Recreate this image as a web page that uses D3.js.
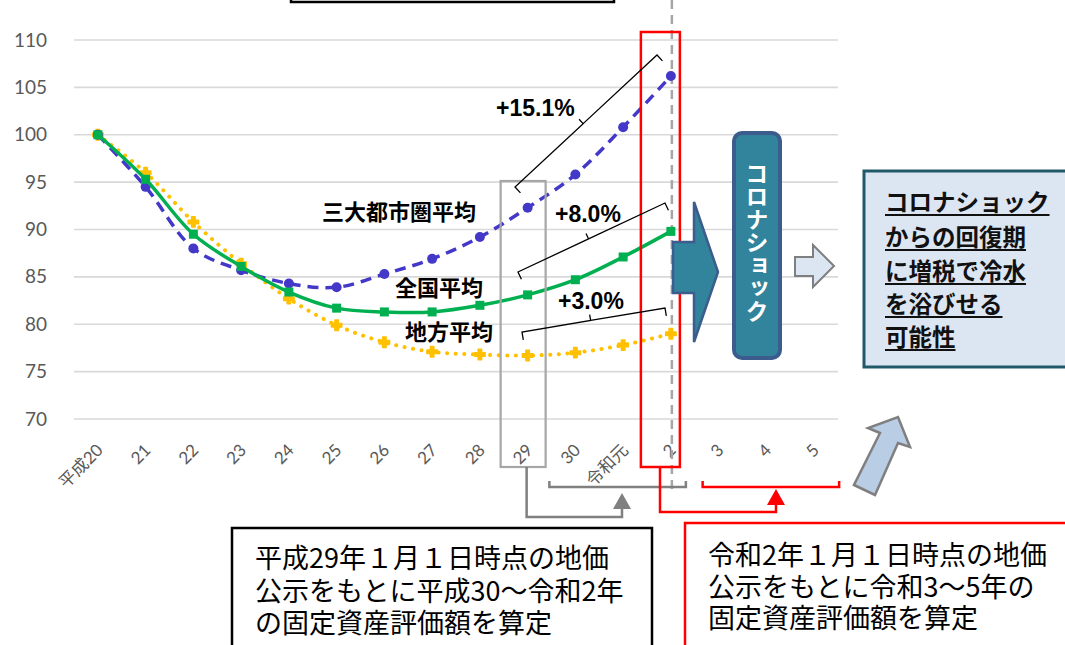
<!DOCTYPE html>
<html><head><meta charset="utf-8">
<script src="https://cdn.jsdelivr.net/npm/d3@7/dist/d3.min.js"></script>
<style>
html,body{margin:0;padding:0;background:#fff;}
svg{display:block;}
</style></head>
<body>
<svg id="chart" width="1065" height="645"></svg>
<script>
// ---- data ----
const categories = ["平成20","21","22","23","24","25","26","27","28","29","30","令和元","2","3","4","5"];
const yTicks = [70,75,80,85,90,95,100,105,110];
const sandaiValues  = [100,94.5,88.0,85.7,84.3,83.9,85.3,86.9,89.2,92.3,95.8,100.8,106.2];
const zenkokuValues = [100,95.3,89.5,86.1,83.4,81.7,81.3,81.3,82.0,83.1,84.7,87.1,89.8];
const chihoValues   = [100,96.0,90.8,86.4,82.7,79.9,78.1,77.1,76.8,76.7,77.0,77.8,79.0];
const seriesLabels = ["三大都市圏平均","全国平均","地方平均"];
const changeLabels = ["+15.1%","+8.0%","+3.0%"];
const coronaText = "コロナショック";
const riskLines = ["コロナショック","からの回復期","に増税で冷水","を浴びせる","可能性"];
const box1Lines = ["平成29年１月１日時点の地価","公示をもとに平成30～令和2年","の固定資産評価額を算定"];
const box2Lines = ["令和2年１月１日時点の地価","公示をもとに令和3～5年の","固定資産評価額を算定"];

const svg = d3.select("#chart");
const x = d3.scaleBand().domain(categories).range([74,838]).padding(0);
const y = d3.scaleLinear().domain([70,110]).range([419,40]);
const cx = c => x(c) + x.bandwidth()/2;
const latin = "Lato, 'Noto Sans CJK JP', sans-serif";
const jp = "'Noto Sans CJK JP', sans-serif";

// title box remnant at top
svg.append("rect").attr("x",291).attr("y",-10).attr("width",323).attr("height",12)
  .attr("fill","none").attr("stroke","#000").attr("stroke-width",2.5);

// gridlines
svg.append("g").selectAll("line").data(yTicks).join("line")
  .attr("x1",74).attr("x2",838).attr("y1",d=>y(d)).attr("y2",d=>y(d))
  .attr("stroke","#D9D9D9").attr("stroke-width",1.6);

// y axis labels
const yAxis = d3.axisLeft(y).tickValues(yTicks).tickSize(0).tickPadding(0);
const ya = svg.append("g").attr("transform","translate(47,0)").call(yAxis);
ya.select(".domain").remove();
ya.selectAll("text").attr("font-family",latin).attr("font-size",19).attr("fill","#595959");

// x axis labels (rotated)
svg.append("g").selectAll("text").data(categories).join("text")
  .attr("transform",d=>`translate(${cx(d)+2},447) rotate(-45)`)
  .attr("text-anchor","end").attr("dy","0.35em")
  .attr("font-family",latin).attr("font-size",17).attr("fill","#595959")
  .text(d=>d);

// dashed vertical at 令和2
svg.append("line").attr("x1",cx("2")+1).attr("x2",cx("2")+1).attr("y1",0).attr("y2",490)
  .attr("stroke","#A6A6A6").attr("stroke-width",2.5).attr("stroke-dasharray","9,6");

// data lines
const cats = categories.slice(0, sandaiValues.length);
const line = d3.line().x((d,i)=>cx(cats[i])).y(d=>y(d)).curve(d3.curveCatmullRom.alpha(0.5));

// 地方 yellow dotted
svg.append("path").attr("d",line(chihoValues)).attr("fill","none")
  .attr("stroke","#FFC000").attr("stroke-width",4).attr("stroke-linecap","round")
  .attr("stroke-dasharray","0.1,8.5");
svg.append("g").selectAll("path").data(chihoValues).join("path")
  .attr("d",d3.symbol(d3.symbolCross,60)())
  .attr("transform",(d,i)=>`translate(${cx(cats[i])},${y(d)})`)
  .attr("fill","#FFC000").attr("stroke","#FFC000").attr("stroke-width",1.5).attr("stroke-linejoin","round");

// 三大都市圏 blue dashed
svg.append("path").attr("d",line(sandaiValues)).attr("fill","none")
  .attr("stroke","#4338C8").attr("stroke-width",3.5).attr("stroke-dasharray","11,7");
svg.append("g").selectAll("circle").data(sandaiValues).join("circle")
  .attr("cx",(d,i)=>cx(cats[i])).attr("cy",d=>y(d)).attr("r",5)
  .attr("fill","#4338C8");

// 全国 green solid
svg.append("path").attr("d",line(zenkokuValues)).attr("fill","none")
  .attr("stroke","#00B050").attr("stroke-width",3.5);
svg.append("g").selectAll("rect").data(zenkokuValues).join("rect")
  .attr("x",(d,i)=>cx(cats[i])-4.5).attr("y",d=>y(d)-4.5).attr("width",9).attr("height",9)
  .attr("fill","#00B050");

// gray box around 29
svg.append("rect").attr("x",cx("29")-27).attr("y",181).attr("width",45).attr("height",286)
  .attr("fill","none").attr("stroke","#A6A6A6").attr("stroke-width",2.2);
// red box around 2
svg.append("rect").attr("x",cx("2")-30).attr("y",32).attr("width",39).attr("height",435)
  .attr("fill","none").attr("stroke","#FF0000").attr("stroke-width",2.5);

// series labels
const labelPos = [[322,220],[395,296],[405,340]];
seriesLabels.forEach((t,i)=>{
  svg.append("text").attr("x",labelPos[i][0]).attr("y",labelPos[i][1])
    .attr("font-family",jp).attr("font-weight","bold").attr("font-size",22)
    .attr("fill","#000").text(t);
});
// change labels
const chgPos = [[496,116],[555,222],[558,309]];
changeLabels.forEach((t,i)=>{
  svg.append("text").attr("x",chgPos[i][0]).attr("y",chgPos[i][1])
    .attr("font-family","'Liberation Sans', Arial, sans-serif").attr("font-weight","bold")
    .attr("font-size",23).attr("fill","#000").text(t);
});

// brackets
function bracket(ax,ay,bx,by){
  const dx=bx-ax, dy=by-ay, L=Math.hypot(dx,dy);
  const ux=dx/L, uy=dy/L;
  let nx=-uy, ny=ux; if(ny<0){nx=-nx;ny=-ny;}
  const h=8, m=6;
  const mx=ax+dx*0.48, my=ay+dy*0.48;
  const p = `M${ax+nx*h},${ay+ny*h} L${ax},${ay} L${mx},${my} L${mx-nx*m},${my-ny*m} M${mx},${my} L${bx},${by} L${bx+nx*h},${by+ny*h}`;
  svg.append("path").attr("d",p).attr("fill","none").attr("stroke","#000").attr("stroke-width",1.3);
}
bracket(515,187,657,55);
bracket(518,272,665,203);
bracket(522,332,665,308);

// gray bracket and arrow (29 -> 30..2)
svg.append("path").attr("d",`M${cx("30")-26},481 V487 H${cx("2")+15} V481`)
  .attr("fill","none").attr("stroke","#808080").attr("stroke-width",2.5);
svg.append("path").attr("d",`M${cx("29")-1},467 V517 H622 V506`)
  .attr("fill","none").attr("stroke","#808080").attr("stroke-width",2.5);
svg.append("path").attr("d","M613,509 L631,509 L622,493 Z").attr("fill","#808080");

// red bracket and arrow (2 -> 3..5)
svg.append("path").attr("d",`M${cx("3")-16},481 V487 H${cx("5")+25} V481`)
  .attr("fill","none").attr("stroke","#FF0000").attr("stroke-width",2.5);
svg.append("path").attr("d","M660,467 V512 H776 V502")
  .attr("fill","none").attr("stroke","#FF0000").attr("stroke-width",2.5);
svg.append("path").attr("d","M767,505 L785,505 L776,489 Z").attr("fill","#FF0000");

// teal big arrow
svg.append("path").attr("d","M673,242 L694,242 L694,202 L718,272 L694,342 L694,293 L673,293 Z")
  .attr("fill","#31849B").attr("stroke","#3B5C8C").attr("stroke-width",2.5).attr("stroke-linejoin","miter");

// corona shock box
svg.append("rect").attr("x",734).attr("y",133).attr("width",46).attr("height",225).attr("rx",8)
  .attr("fill","#31849B").attr("stroke","#3B5C8C").attr("stroke-width",4);
svg.append("text").attr("x",757).attr("y",162)
  .attr("style","writing-mode: vertical-rl; text-orientation: upright;")
  .attr("font-family",jp).attr("font-weight","bold").attr("font-size",23)
  .attr("fill","#fff").text(coronaText);

// small outline arrow
svg.append("path").attr("d","M795,257 L813,257 L813,245 L834,266 L813,287 L813,276 L795,276 Z")
  .attr("fill","#DCE6F2").attr("stroke","#7F7F7F").attr("stroke-width",2);

// diagonal arrow
svg.append("path").attr("d","M854,485 L875,495 L898,443 L910,447 L898,417 L868,428 L880,433 Z")
  .attr("fill","#B9CDE5").attr("stroke","#7F7F7F").attr("stroke-width",2.5).attr("stroke-linejoin","miter");

// right risk box
svg.append("rect").attr("x",864).attr("y",171).attr("width",220).attr("height",196)
  .attr("fill","#DCE6F2").attr("stroke","#215968").attr("stroke-width",3);
const riskBase=[211,246,280,313,346];
riskLines.forEach((t,i)=>{
  const tx = svg.append("text").attr("x",885).attr("y",riskBase[i])
    .attr("font-family",jp).attr("font-weight","bold").attr("font-size",23.5)
    .attr("fill","#111").text(t);
  const w = tx.node().getComputedTextLength();
  svg.append("line").attr("x1",885).attr("x2",885+w).attr("y1",riskBase[i]+4).attr("y2",riskBase[i]+4)
    .attr("stroke","#111").attr("stroke-width",2);
});

// bottom boxes
svg.append("rect").attr("x",232).attr("y",528).attr("width",420).attr("height",200)
  .attr("fill","#fff").attr("stroke","#000").attr("stroke-width",2.5);
box1Lines.forEach((t,i)=>{
  svg.append("text").attr("x",255).attr("y",[568,601,633][i])
    .attr("font-family",jp).attr("font-size",27).attr("fill","#000").text(t);
});
svg.append("rect").attr("x",685).attr("y",523).attr("width",420).attr("height",200)
  .attr("fill","#fff").attr("stroke","#FF0000").attr("stroke-width",2.5);
box2Lines.forEach((t,i)=>{
  svg.append("text").attr("x",708).attr("y",[565,597,628][i])
    .attr("font-family",jp).attr("font-size",27).attr("fill","#000").text(t);
});
</script>
</body></html>
